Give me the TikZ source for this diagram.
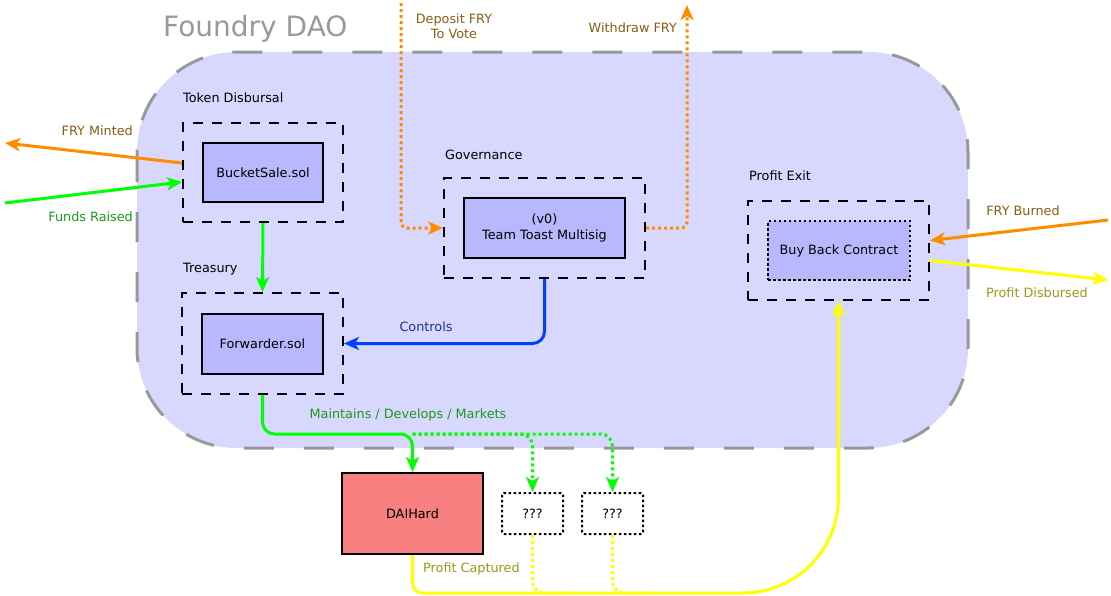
\documentclass[tikz,border=0pt]{standalone}
\usepackage{fontspec}
\setmainfont{DejaVu Sans}
\usetikzlibrary{arrows.meta}
\definecolor{daofill}{HTML}{D8D8FF}
\definecolor{boxfill}{HTML}{B8B8FF}
\definecolor{daifill}{HTML}{F88080}
\definecolor{daogray}{HTML}{999999}
\definecolor{corange}{HTML}{FF8C00}
\definecolor{cgreen}{HTML}{00FF00}
\definecolor{cblue}{HTML}{0040FF}
\definecolor{cyellow}{HTML}{FFFF00}
\definecolor{tbrown}{HTML}{8C5A14}
\definecolor{tgreen}{HTML}{1A991A}
\definecolor{tolive}{HTML}{999919}
\definecolor{tblue}{HTML}{1A3399}
\tikzset{
  lbl/.style={font=\fontsize{12.8}{15.5}\selectfont, inner sep=0pt},
  grp/.style={draw=black, line width=2pt, dash pattern=on 10pt off 9pt, minimum width=#1, inner sep=0pt},
  contract/.style={draw=black, line width=2pt, fill=boxfill, inner sep=0pt, font=\fontsize{12.8}{15.5}\selectfont, align=center},
  tip/.style={-{Stealth[length=15pt,width=13pt,inset=4pt]}},
  conn/.style={line width=3pt, tip},
  dots/.style={dash pattern=on 3pt off 3pt},
  bdots/.style={dash pattern=on 2.5pt off 2.5pt},
}
\begin{document}
\begin{tikzpicture}[x=1pt,y=-1pt]
\useasboundingbox (0,0) rectangle (1111,595);
% DAO container
\fill[daofill, rounded corners=100pt] (137,52) rectangle (968,448);
\draw[daogray, line width=3pt, dash pattern=on 30pt off 30pt, rounded corners=100pt] (137,52) rectangle (968,448);
\node[lbl, text=daogray, font=\fontsize{28}{32}\selectfont, anchor=base west] (title) at (163,36) {Foundry DAO};

% group labels
\node[lbl, anchor=west] (ltok) at (183,98) {Token Disbursal};
\node[lbl, anchor=west] (lgov) at (445,155) {Governance};
\node[lbl, anchor=west] (lexit) at (749,176) {Profit Exit};
\node[lbl, anchor=west] (ltre) at (183,269) {Treasury};

% groups
\node[grp=160pt, minimum height=99pt] (gTok) at (263,172.5) {};
\node[grp=201pt, minimum height=100pt] (gGov) at (544.5,228) {};
\node[grp=181pt, minimum height=99pt] (gExit) at (838.5,250.5) {};
\node[grp=161pt, minimum height=101pt] (gTre) at (262.5,343.5) {};

% contracts
\node[contract, minimum width=120pt, minimum height=59pt] (bucket) at (263,172.5) {BucketSale.sol};
\node[contract, minimum width=161pt, minimum height=60pt] (msig) at (544.5,228) {(v0)\\Team Toast Multisig};
\node[contract, bdots, minimum width=142pt, minimum height=59pt] (buy) at (839,250.5) {Buy Back Contract};
\node[contract, minimum width=121pt, minimum height=60pt] (fwd) at (262.5,344) {Forwarder.sol};
\node[contract, fill=daifill, minimum width=141pt, minimum height=81pt] (dai) at (412.5,513.5) {DAIHard};
\node[contract, fill=white, bdots, rounded corners=2pt, minimum width=61pt, minimum height=41pt] (q1) at (532.5,513.5) {???};
\node[contract, fill=white, bdots, rounded corners=2pt, minimum width=61pt, minimum height=41pt] (q2) at (612.5,513.5) {???};

% free ends
\coordinate (mintEnd) at (5,143);
\coordinate (fundStart) at (5,203);
\coordinate (depStart) at (401,3);
\coordinate (wdEnd) at (687,5);
\coordinate (burnStart) at (1108,220);
\coordinate (disbEnd) at (1108,280);
\coordinate (bus) at (412.5,434);

% connectors
\draw[conn, corange] ([yshift=9.5pt]gTok.west) -- (mintEnd);
\draw[conn, cgreen] (fundStart) -- ([yshift=-9.5pt]gTok.west);
\draw[conn, cgreen] (gTok.south) -- (gTre.north);
\draw[conn, corange, dots, rounded corners=6pt] (depStart) |- (gGov.west);
\draw[conn, corange, dots, rounded corners=6pt] (gGov.east) -| (wdEnd);
\draw[conn, cblue, rounded corners=12pt] (gGov.south) |- (gTre.east);
\draw[conn, corange] (burnStart) -- ([yshift=10pt]gExit.east);
\draw[conn, cyellow] ([yshift=-10pt]gExit.east) -- (disbEnd);
\draw[conn, cgreen, rounded corners=12pt] (gTre.south) |- (bus) -- (dai.north);
\draw[conn, cgreen, dots, rounded corners=12pt] (bus) -| (q1.north);
\draw[conn, cgreen, dots, rounded corners=12pt] (bus) -| (q2.north);
\draw[line width=3pt, cyellow, dots, rounded corners=12pt] (q1.south) |- (570,593);
\draw[line width=3pt, cyellow, dots, rounded corners=12pt] (q2.south) |- (650,593);
\draw[conn, cyellow] (dai.south) -- (412.5,583) .. controls (412.5,588.5) and (417,593) .. (422.5,593) -- (743,593) .. controls (796,593) and (838.5,550) .. (838.5,497) -- (gExit.south);

% connector labels
\node[lbl, text=tbrown, anchor=east] (tMint) at (133,131) {FRY Minted};
\node[lbl, text=tgreen, anchor=east] (tFund) at (133,217) {Funds Raised};
\node[lbl, text=tbrown, align=center] (tDep) at (454,26) {Deposit FRY\\To Vote};
\node[lbl, text=tbrown, anchor=east] (tWd) at (677,28) {Withdraw FRY};
\node[lbl, text=tblue] (tCtl) at (426,327) {Controls};
\node[lbl, text=tbrown] (tBurn) at (1023,211) {FRY Burned};
\node[lbl, text=tolive] (tDisb) at (1037,293) {Profit Disbursed};
\node[lbl, text=tgreen] (tMaint) at (408,415) {Maintains / Develops / Markets};
\node[lbl, text=tolive, anchor=west] (tCap) at (423,569) {Profit Captured};
\end{tikzpicture}
\end{document}
